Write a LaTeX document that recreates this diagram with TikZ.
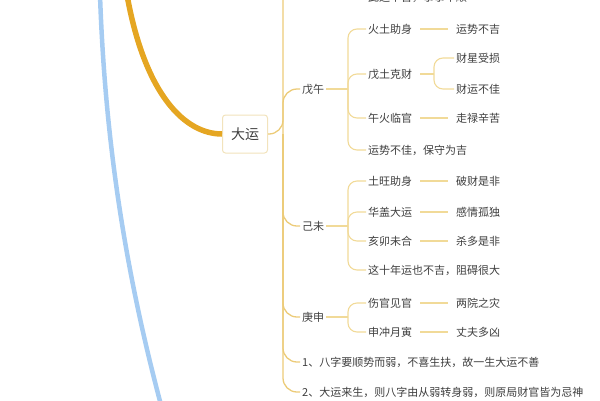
\documentclass[tikz,border=0pt]{standalone}
\usepackage{fontspec}
\setmainfont{Noto Sans CJK SC}
\usetikzlibrary{positioning}
\usetikzlibrary{calc}
\definecolor{runorange}{HTML}{E5A622}
\definecolor{runblue}{HTML}{A6CCF2}
\definecolor{trunkline}{HTML}{ECCB78}
\definecolor{twigline}{HTML}{F1DA98}
\definecolor{boxline}{HTML}{F2E3BC}
\definecolor{inktext}{HTML}{3E3E3E}
\tikzset{
    topic/.style={draw=boxline, line width=1pt, rounded corners=3pt, fill=white,
        minimum width=45pt, minimum height=38pt, inner sep=0pt, text=inktext,
        font=\fontsize{14}{16}\selectfont},
    leaf/.style={anchor=west, inner sep=2pt, text=inktext, font=\fontsize{11}{13}\selectfont},
    trunk/.style={draw=trunkline, line width=1.3pt, rounded corners=14pt},
    twig/.style={draw=twigline, line width=1.1pt, rounded corners=9pt},
}
\begin{document}
\begin{tikzpicture}[x=1pt,y=-1pt]
		\useasboundingbox (0,0) rectangle (600,400);
		\clip (0,0) rectangle (600,400);
		% thick main branches
		\draw[runblue, line width=4.5pt] (100,-5) .. controls (105,140) and (125,270) .. (161,405);
		\node[topic] (dayun) at (245,134) {大运};
		\draw[runorange, line width=5.5pt] (127,-5) .. controls (145,95) and (185,134) .. (dayun.west);
		% first level
		\coordinate (hub) at (283,134);
		\coordinate (upper) at (283,-10);
		\node[leaf] (wuwu) at (300,89) {戊午};
		\node[leaf] (jiwei) at (300,226) {己未};
		\node[leaf] (gengshen) at (300,317) {庚申};
		\node[leaf] (noteone) at (300,362) {1、八字要顺势而弱，不喜生扶，故一生大运不善};
		\node[leaf] (notetwo) at (300,392) {2、大运来生，则八字由从弱转身弱，则原局财官皆为忌神};
		\draw[trunk] (dayun.east) -- (hub) -- (upper);
		\foreach \kid in {wuwu,jiwei,gengshen,noteone,notetwo}
			\draw[trunk] (hub) |- (\kid.west);
		% cut-off text above
		\node[leaf] (topnote) at (366,-3) {此运不吉，事事不顺};
		% 戊午
		\coordinate (wuhub) at (348,89);
		\node[leaf] (huotu) at (366,29) {火土助身};
		\node[leaf] (wutu) at (366,74) {戊土克财};
		\node[leaf] (wuhuo) at (366,118) {午火临官};
		\node[leaf] (wubad) at (366,150) {运势不佳，保守为吉};
		\draw[twig] (wuwu.east) -- (wuhub);
		\foreach \kid in {huotu,wutu,wuhuo,wubad}
			\draw[twig] (wuhub) |- (\kid.west);
		\node[leaf] (yunbuji) at (454,29) {运势不吉};
		\draw[twig] ($(huotu.east)+(6,0)$) -- ($(yunbuji.west)+(-6,0)$);
		\coordinate (caihub) at (434,74);
		\node[leaf] (caixing) at (454,58) {财星受损};
		\node[leaf] (caiyun) at (454,89) {财运不佳};
		\draw[twig] ($(wutu.east)+(6,0)$) -- (caihub);
		\foreach \kid in {caixing,caiyun}
			\draw[twig] (caihub) |- (\kid.west);
		\node[leaf] (zoulu) at (454,118) {走禄辛苦};
		\draw[twig] ($(wuhuo.east)+(6,0)$) -- ($(zoulu.west)+(-6,0)$);
		% 己未
		\coordinate (jihub) at (348,226);
		\node[leaf] (tuwang) at (366,181) {土旺助身};
		\node[leaf] (huagai) at (366,212) {华盖大运};
		\node[leaf] (haimao) at (366,241) {亥卯未合};
		\node[leaf] (shinian) at (366,270) {这十年运也不吉，阻碍很大};
		\draw[twig] (jiwei.east) -- (jihub);
		\foreach \kid in {tuwang,huagai,haimao,shinian}
			\draw[twig] (jihub) |- (\kid.west);
		\node[leaf] (pocai) at (454,181) {破财是非};
		\node[leaf] (ganqing) at (454,212) {感情孤独};
		\node[leaf] (shaduo) at (454,241) {杀多是非};
		\draw[twig] ($(tuwang.east)+(6,0)$) -- ($(pocai.west)+(-6,0)$);
		\draw[twig] ($(huagai.east)+(6,0)$) -- ($(ganqing.west)+(-6,0)$);
		\draw[twig] ($(haimao.east)+(6,0)$) -- ($(shaduo.west)+(-6,0)$);
		% 庚申
		\coordinate (genghub) at (348,317);
		\node[leaf] (shangguan) at (366,303) {伤官见官};
		\node[leaf] (shenchong) at (366,332) {申冲月寅};
		\draw[twig] (gengshen.east) -- (genghub);
		\foreach \kid in {shangguan,shenchong}
			\draw[twig] (genghub) |- (\kid.west);
		\node[leaf] (liangyuan) at (454,303) {两院之灾};
		\node[leaf] (zhangfu) at (454,332) {丈夫多凶};
		\draw[twig] ($(shangguan.east)+(6,0)$) -- ($(liangyuan.west)+(-6,0)$);
		\draw[twig] ($(shenchong.east)+(6,0)$) -- ($(zhangfu.west)+(-6,0)$);
	\end{tikzpicture}
\end{document}
